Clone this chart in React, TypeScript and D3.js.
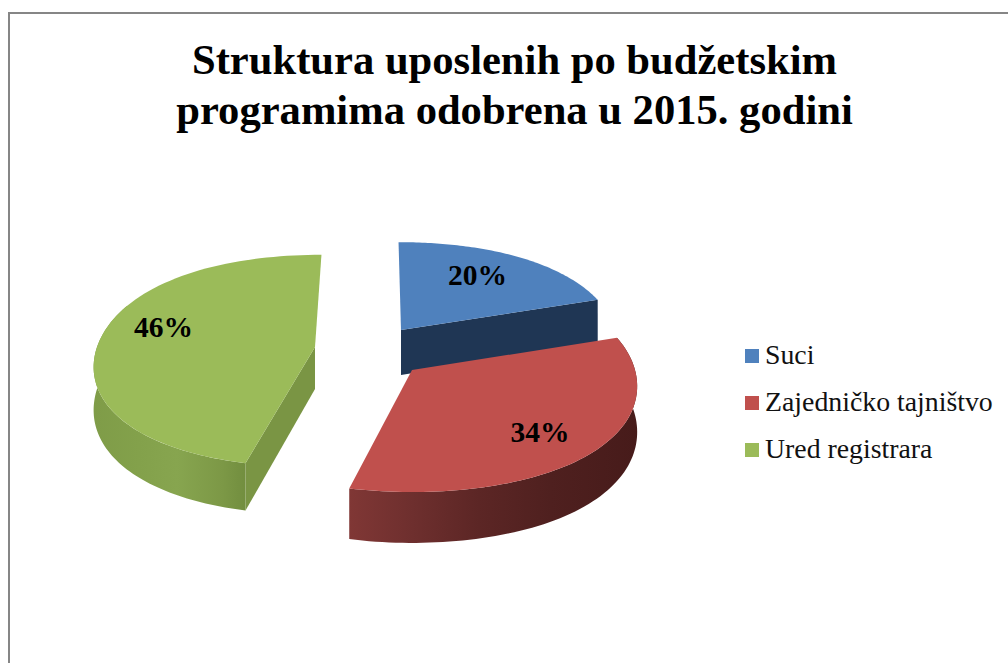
import React from "react";
import * as d3 from "d3";

const categories = ["Suci", "Zajedničko tajništvo", "Ured registrara"];
const shares = [20, 34, 46];
const titleLines = ["Struktura uposlenih po budžetskim", "programima odobrena u 2015. godini"];

const topColors = ["#4f81bd", "#c0504d", "#9bbb59"];
const faceColors = ["#1f3654", "#6b2d2c", "#7a9544"];

// Projection of each exploded slice (tilted disc, mild perspective, slight shear)
const slicePlacement = [
  { cx: 401, cy: 330, rx: 215, ry: 101, shear: 0.028, depth: 45, label: [477.5, 285], face: "end", rimSpan: 0 },
  { cx: 412, cy: 370, rx: 223, ry: 108, shear: 0, depth: 45, label: [540, 442], face: "none", rimSpan: 1 },
  { cx: 315, cy: 347, rx: 218, ry: 106, shear: -0.07, depth: 42, label: [163.5, 337], face: "start", rimSpan: 0.6 },
];
const perspective = 0.13;
const bulge = 0.02;
const drawOrder = [2, 0, 1];

const serif = "'Liberation Serif', 'Times New Roman', serif";

const rimStops = [
  [
    ["0%", "#1f3654"],
    ["100%", "#1f3654"],
  ],
  [
    ["0%", "#803735"],
    ["22%", "#6e2f2e"],
    ["45%", "#5c2625"],
    ["70%", "#4f201f"],
    ["100%", "#471b1a"],
  ],
  [
    ["0%", "#7f9c48"],
    ["30%", "#83a14b"],
    ["55%", "#87a54f"],
    ["85%", "#7c9846"],
    ["100%", "#728e3f"],
  ],
];

type Place = (typeof slicePlacement)[number];

function project(p: Place, theta: number, r: number, down = 0): [number, number] {
  const rr = r * (1 + bulge * Math.sin(2 * theta) ** 2);
  const f = 1 - perspective * Math.cos(theta) * rr;
  const dy = -p.ry * Math.cos(theta) * rr * f;
  const dx = p.rx * Math.sin(theta) * rr * f + p.shear * dy;
  return [p.cx + dx, p.cy + dy + down * f];
}

export default function App() {
  const arcs = d3.pie<number>().sort(null).startAngle(0).endAngle(2 * Math.PI)(shares);
  const line = d3.line();

  const sweep = (p: Place, a: number, b: number, down = 0) => {
    const n = 80;
    return d3.range(n + 1).map((i) => project(p, a + ((b - a) * i) / n, 1, down));
  };

  const slices = arcs.map((arc, i) => {
    const p = slicePlacement[i];
    const a = arc.startAngle;
    const b = arc.endAngle;
    const top = line([project(p, 0, 0), ...sweep(p, a, b)]) + "Z";
    const rimEnd = a + (b - a) * p.rimSpan;
    const rim =
      p.rimSpan > 0 ? line([...sweep(p, a, rimEnd), ...sweep(p, a, rimEnd, p.depth).reverse()]) + "Z" : null;
    let face: string | null = null;
    const edge = p.face === "end" ? b : p.face === "start" ? a : null;
    if (edge !== null) {
      face =
        line([
          project(p, 0, 0),
          project(p, edge, 1),
          project(p, edge, 1, p.depth),
          project(p, 0, 0, p.depth),
        ]) + "Z";
    }
    const xs = sweep(p, a, rimEnd).map((d) => d[0]);
    return { i, top, rim, face, x0: d3.min(xs)!, x1: d3.max(xs)! };
  });

  const legendY = d3
    .scalePoint<string>()
    .domain(categories)
    .range([356, 450]);

  return (
    <svg
      width={1008}
      height={663}
      viewBox="0 0 1008 663"
      style={{ position: "absolute", left: 0, top: 0, display: "block", background: "#fff" }}
    >
      <defs>
        {slices.map((s) => (
          <linearGradient
            key={s.i}
            id={`rim${s.i}`}
            gradientUnits="userSpaceOnUse"
            x1={s.x0}
            x2={s.x1}
            y1={0}
            y2={0}
          >
            {rimStops[s.i].map(([o, c]) => (
              <stop key={o} offset={o} stopColor={c} />
            ))}
          </linearGradient>
        ))}
      </defs>

      <rect x={9} y={13} width={1010} height={670} fill="none" stroke="#868686" strokeWidth={2} />

      <g fontFamily={serif} fontWeight={700} fontSize={42.6} textAnchor="middle" fill="#000">
        {titleLines.map((t, i) => (
          <text key={t} x={514.5} y={74 + i * 50}>
            {t}
          </text>
        ))}
      </g>

      {drawOrder.map((k) => {
        const s = slices[k];
        return (
          <g key={k}>
            {s.rim && <path d={s.rim} fill={`url(#rim${k})`} />}
            {s.face && <path d={s.face} fill={faceColors[k]} />}
            <path d={s.top} fill={topColors[k]} />
          </g>
        );
      })}

      <g fontFamily={serif} fontWeight={700} fontSize={29.5} textAnchor="middle" fill="#000">
        {shares.map((v, i) => (
          <text key={i} x={slicePlacement[i].label[0]} y={slicePlacement[i].label[1]}>
            {d3.format("d")(v)}%
          </text>
        ))}
      </g>

      <g fontFamily={serif} fontSize={27.8} fill="#111">
        {categories.map((c, i) => {
          const y = legendY(c)!;
          return (
            <g key={c}>
              <rect x={745} y={y - 7} width={14} height={14} fill={topColors[i]} />
              <text x={765} y={y + 8}>
                {c}
              </text>
            </g>
          );
        })}
      </g>
    </svg>
  );
}
